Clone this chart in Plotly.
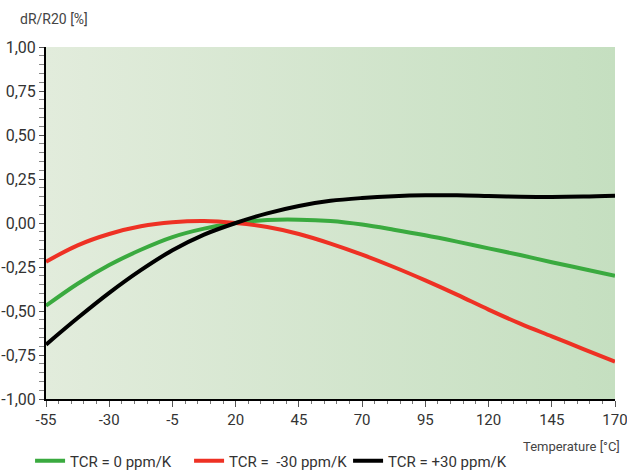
import plotly.graph_objects as go

temps = [-55, -42.5, -30, -17.5, -5, 7.5, 20, 32.5, 45, 57.5, 70, 82.5, 95, 107.5, 120, 132.5, 145, 157.5, 170]
tcr_0 = [-0.47, -0.345, -0.239, -0.152, -0.08, -0.032, 0.0, 0.017, 0.019, 0.011, -0.009, -0.038, -0.07, -0.106, -0.144, -0.182, -0.223, -0.261, -0.30]
tcr_m30 = [-0.22, -0.127, -0.0625, -0.019, 0.004, 0.011, 0.0, -0.023, -0.0625, -0.117, -0.18, -0.25, -0.326, -0.407, -0.492, -0.572, -0.644, -0.716, -0.788]
tcr_p30 = [-0.691, -0.54, -0.397, -0.268, -0.155, -0.066, 0.0, 0.055, 0.097, 0.126, 0.142, 0.152, 0.157, 0.157, 0.153, 0.149, 0.148, 0.15, 0.155]

series_names = ["TCR = 0 ppm/K", "TCR =\u00a0 -30 ppm/K", "TCR = +30 ppm/K"]
series_colors = ["#3aaa3f", "#ee3124", "#000000"]

x_ticks = [-55, -30, -5, 20, 45, 70, 95, 120, 145, 170]
x_ticktext = ["-55", "-30", "-5", "20", "45", "70", "95", "120", "145", "170"]
y_ticks = [-1.0, -0.75, -0.5, -0.25, 0.0, 0.25, 0.5, 0.75, 1.0]
y_ticktext = ["-1,00", "-0,75", "-0,50", "-0,25", "0,00", "0,25", "0,50", "0,75", "1,00"]

x_range = [-55, 170]
y_range = [-1.0, 1.0]

FONT = "Roboto, Liberation Sans Narrow, sans-serif"

fig = go.Figure()

# background gradient of the plot area
fig.add_trace(go.Scatter(
    x=[x_range[0], x_range[1], x_range[1], x_range[0], x_range[0]],
    y=[y_range[0], y_range[0], y_range[1], y_range[1], y_range[0]],
    mode="lines", line=dict(width=0), fill="toself",
    fillgradient=dict(type="horizontal", colorscale=[[0, "#e2ecdc"], [1, "#c5dfc0"]]),
    hoverinfo="skip", showlegend=False,
))

for name, vals, col in zip(series_names, [tcr_0, tcr_m30, tcr_p30], series_colors):
    fig.add_trace(go.Scatter(
        x=temps, y=vals, mode="lines", name=name,
        line=dict(color=col, width=4, shape="spline", smoothing=1.0),
    ))

fig.update_layout(
    width=627, height=471,
    margin=dict(l=46, r=12, t=47, b=72, autoexpand=False),
    paper_bgcolor="white", plot_bgcolor="white",
    font=dict(family=FONT, size=15, color="#333333"),
    showlegend=True,
    legend=dict(orientation="h", x=-0.028, xanchor="left", y=-0.176, yanchor="middle",
                itemwidth=30, entrywidth=114, entrywidthmode="pixels",
                font=dict(size=15, color="#333333"),
                bgcolor="rgba(0,0,0,0)", traceorder="normal"),
    xaxis=dict(
        range=x_range, tickvals=x_ticks, ticktext=x_ticktext,
        showgrid=True, gridcolor="#a8d3a2", gridwidth=1,
        showline=True, linecolor="black", linewidth=2,
        ticks="outside", ticklen=6, tickcolor="#555555", tickwidth=1,
        ticklabeloverflow="allow",
        minor=dict(dtick=5, tick0=-55, ticks="outside", ticklen=3, tickcolor="#777777", showgrid=False),
        zeroline=False, tickfont=dict(size=15, color="#333333"),
    ),
    yaxis=dict(
        range=y_range, tickvals=y_ticks, ticktext=y_ticktext,
        showgrid=True, gridcolor="#a8d3a2", gridwidth=1,
        showline=True, linecolor="black", linewidth=2,
        ticks="outside", ticklen=5, tickcolor="#555555", tickwidth=1,
        ticklabeloverflow="allow",
        minor=dict(dtick=0.05, tick0=0, ticks="outside", ticklen=5, tickcolor="#888888", showgrid=False),
        zeroline=False, tickfont=dict(size=16, color="#333333"),
    ),
    annotations=[
        dict(text="dR/R20 [%]", xref="paper", yref="paper", x=-0.05, y=1.08,
             xanchor="left", yanchor="middle", showarrow=False,
             font=dict(size=14, color="#444444")),
        dict(text="Temperature [°C]", xref="paper", yref="paper", x=1.012, y=-0.136,
             xanchor="right", yanchor="middle", showarrow=False,
             font=dict(size=13, color="#444444")),
    ],
)

fig.write_html("out.html", config={"displayModeBar": False},
               post_script="document.body.style.margin='0';")
